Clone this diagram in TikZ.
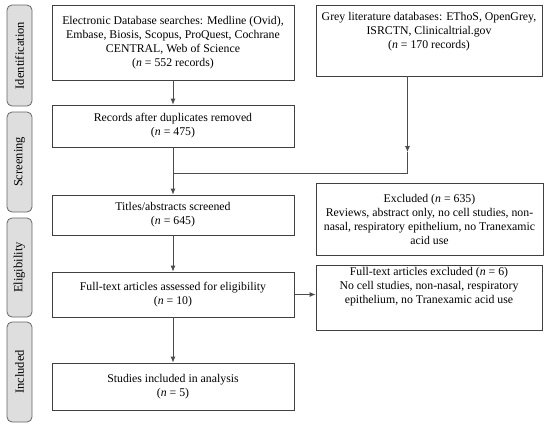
\documentclass[tikz,border=0pt]{standalone}
\usepackage{fontspec}
\setmainfont{Liberation Serif}
\usetikzlibrary{arrows.meta,calc}
\begin{document}
\begin{tikzpicture}[x=1pt,y=-1pt,
  box/.style={draw=black!75,line width=0.8pt,align=center,inner sep=2pt,
    font=\fontsize{11.8}{14}\selectfont},
  phase/.style={draw=black!60,fill=black!13,rounded corners=5pt,line width=0.8pt,
    minimum width=25pt,minimum height=100pt,inner sep=0pt,
    font=\fontsize{12.5}{13}\selectfont},
  conn/.style={draw=black!70,line width=0.8pt},
  arr/.style={conn,-{Latex[length=6pt,width=5pt]}}]
\useasboundingbox (0,0) rectangle (550,426);
% phase labels
\node[phase,minimum height=101pt] (pid) at (19.5,55.5) {\rotatebox{90}{Identification}};
\node[phase] (psc) at (19.5,162) {\rotatebox{90}{Screening}};
\node[phase,minimum height=99pt] (pel) at (19.5,267.5) {\rotatebox{90}{Eligibility}};
\node[phase] (pin) at (19.5,372) {\rotatebox{90}{Included}};
% boxes
\node[box,minimum width=242pt,minimum height=75pt] (b1) at (173,42.5)
  {Electronic Database searches: Medline (Ovid),\\Embase, Biosis, Scopus, ProQuest, Cochrane\\CENTRAL, Web of Science\\(\textit{n} = 552 records)};
\node[box,minimum width=226pt,minimum height=71pt,text depth=20pt] (b2) at (429,40.5)
  {Grey literature databases: EThoS, OpenGrey,\\ISRCTN, Clinicaltrial.gov\\(\textit{n} = 170 records)};
\node[box,minimum width=242pt,minimum height=42pt] (b3) at (173,126)
  {Records after duplicates removed\\(\textit{n} = 475)};
\node[box,minimum width=242pt,minimum height=40pt] (b4) at (173,215)
  {Titles/abstracts screened\\(\textit{n} = 645)};
\node[box,minimum width=227pt,minimum height=72pt] (e1) at (429.5,219)
  {Excluded (\textit{n} = 635)\\Reviews, abstract only, no cell studies, non-\\nasal, respiratory epithelium, no Tranexamic\\acid use};
\node[box,minimum width=242pt,minimum height=45pt] (b5) at (173,294.5)
  {Full-text articles assessed for eligibility\\(\textit{n} = 10)};
\node[box,minimum width=226pt,minimum height=61pt,text depth=25pt] (e2) at (429,297.5)
  {Full-text articles excluded (\textit{n} = 6)\\No cell studies, non-nasal, respiratory\\epithelium, no Tranexamic acid use};
\node[box,minimum width=242pt,minimum height=47pt] (b6) at (173,386.5)
  {Studies included in analysis\\(\textit{n} = 5)};
% connectors
\draw[arr] (b1.south) -- (b3.north);
\coordinate (g0) at (b2.south -| 407.5,0);
\coordinate (g1) at (407.5,152);
\coordinate (g2) at (407.5,173);
\coordinate (g3) at (b3.south |- g2);
\draw[arr] (g0) -- (g1);
\draw[conn] (g1) -- (g2) -- (g3);
\draw[arr] (b3.south) -- (b4.north);
\draw[arr] (b4.south) -- (b5.north);
\draw[arr] (b5.east) -- (b5.east -| e2.west);
\draw[arr] (b5.south) -- (b6.north);
\end{tikzpicture}
\end{document}
